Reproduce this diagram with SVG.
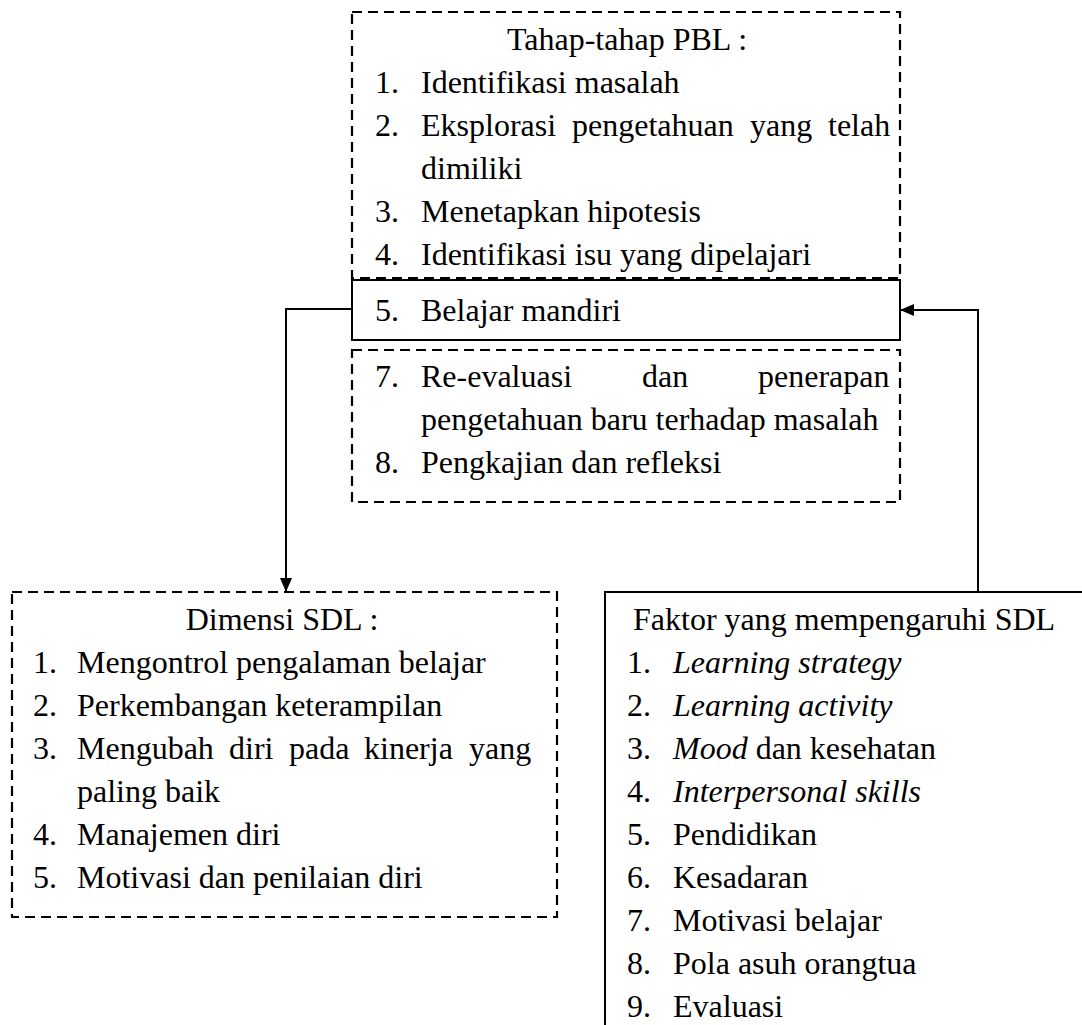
<svg xmlns="http://www.w3.org/2000/svg" width="1082" height="1025" viewBox="0 0 1082 1025">
<style>
text{font-family:"Liberation Serif","Times New Roman",serif;font-size:32px;fill:#000}
.it{font-style:italic}
.dash{fill:none;stroke:#000;stroke-width:2.2;stroke-dasharray:10 6}
.solid{fill:none;stroke:#000;stroke-width:2}
.conn{fill:none;stroke:#000;stroke-width:2}
</style>
<defs>
<marker id="ah" viewBox="0 0 14 12" refX="14" refY="6" markerWidth="14" markerHeight="12" markerUnits="userSpaceOnUse" orient="auto">
<path d="M0,0 L14,6 L0,12 z" fill="#000"/>
</marker>
</defs>
<rect width="1082" height="1025" fill="#fff"/>
<g id="connectors">
<polyline class="conn" points="352,309 286,309 286,592" marker-end="url(#ah)"/>
<polyline class="conn" points="978,592 978,310 900,310" marker-end="url(#ah)"/>
</g>
<g id="tahap-pbl">
<rect class="dash" x="352" y="12" width="548" height="266"/>
<text x="627" y="50" text-anchor="middle">Tahap-tahap PBL :</text>
<text x="375" y="93">1.</text><text x="421" y="93">Identifikasi masalah</text>
<text x="375" y="136">2.</text>
<text y="136"><tspan x="421">Eksplorasi</tspan><tspan x="572">pengetahuan</tspan><tspan x="750">yang</tspan><tspan x="828">telah</tspan></text>
<text x="421" y="179">dimiliki</text>
<text x="375" y="222">3.</text><text x="421" y="222">Menetapkan hipotesis</text>
<text x="375" y="265">4.</text><text x="421" y="265">Identifikasi isu yang dipelajari</text>
</g>
<g id="belajar-mandiri">
<rect class="solid" x="352" y="280" width="548" height="60"/>
<text x="375" y="321">5.</text><text x="421" y="321">Belajar mandiri</text>
</g>
<g id="tahap-lanjut">
<rect class="dash" x="352" y="350" width="548" height="152"/>
<text x="375" y="387">7.</text>
<text y="387"><tspan x="421">Re-evaluasi</tspan><tspan x="642">dan</tspan><tspan x="758">penerapan</tspan></text>
<text x="421" y="430">pengetahuan baru terhadap masalah</text>
<text x="375" y="473">8.</text><text x="421" y="473">Pengkajian dan refleksi</text>
</g>
<g id="dimensi-sdl">
<rect class="dash" x="12" y="592" width="545" height="325"/>
<text x="282" y="630" text-anchor="middle">Dimensi SDL :</text>
<text x="33" y="673">1.</text><text x="77" y="673">Mengontrol pengalaman belajar</text>
<text x="33" y="716">2.</text><text x="77" y="716">Perkembangan keterampilan</text>
<text x="33" y="759">3.</text>
<text y="759"><tspan x="77">Mengubah</tspan><tspan x="229">diri</tspan><tspan x="289">pada</tspan><tspan x="364">kinerja</tspan><tspan x="469">yang</tspan></text>
<text x="77" y="802">paling baik</text>
<text x="33" y="845">4.</text><text x="77" y="845">Manajemen diri</text>
<text x="33" y="888">5.</text><text x="77" y="888">Motivasi dan penilaian diri</text>
</g>
<g id="faktor-sdl">
<rect class="solid" x="605" y="592" width="500" height="460"/>
<text x="633" y="630">Faktor yang mempengaruhi SDL</text>
<text x="627" y="673">1.</text><text x="673" y="673" class="it">Learning strategy</text>
<text x="627" y="716">2.</text><text x="673" y="716" class="it">Learning activity</text>
<text x="627" y="759">3.</text><text x="673" y="759"><tspan class="it">Mood</tspan> dan kesehatan</text>
<text x="627" y="802">4.</text><text x="673" y="802" class="it">Interpersonal skills</text>
<text x="627" y="845">5.</text><text x="673" y="845">Pendidikan</text>
<text x="627" y="888">6.</text><text x="673" y="888">Kesadaran</text>
<text x="627" y="931">7.</text><text x="673" y="931">Motivasi belajar</text>
<text x="627" y="974">8.</text><text x="673" y="974">Pola asuh orangtua</text>
<text x="627" y="1017">9.</text><text x="673" y="1017">Evaluasi</text>
</g>
</svg>
